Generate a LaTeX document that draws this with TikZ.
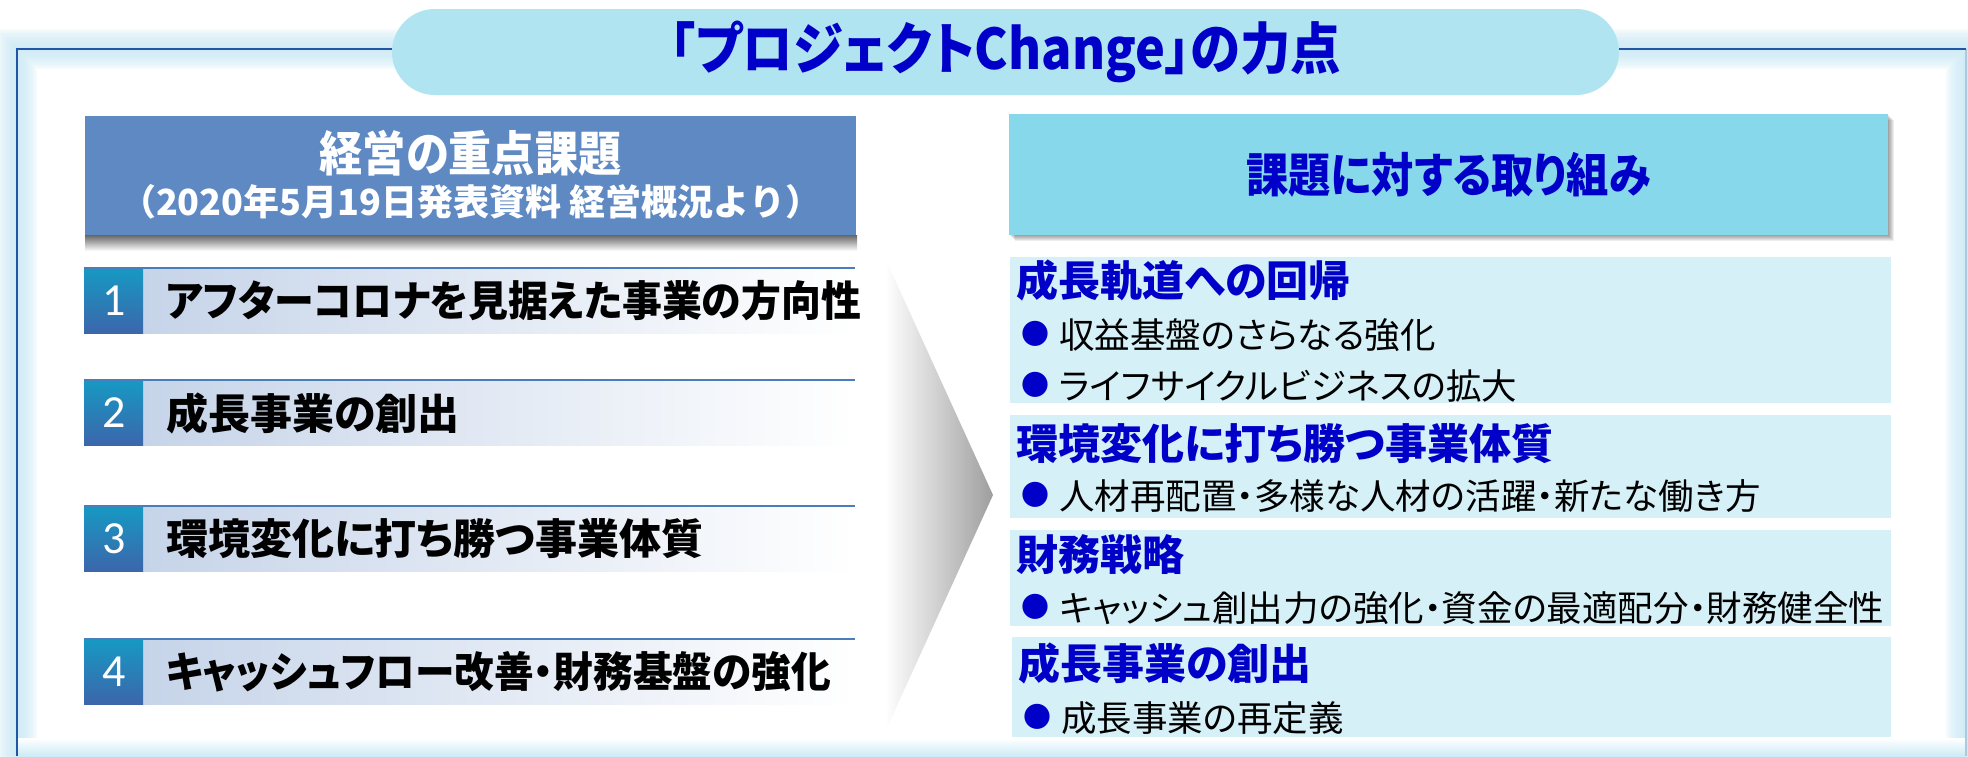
\documentclass[tikz,border=0pt]{standalone}
\usepackage{fontspec}
\usepackage{tikz}
\usepackage{xcolor}

\newfontfamily\jpfont{Noto Sans CJK JP}[RawFeature=+palt]
\newfontfamily\jpslim{Noto Sans CJK JP}[RawFeature=+palt, FakeStretch=0.9]
\newfontfamily\jpwide{Noto Sans CJK JP}
\newfontfamily\numfont{Carlito}

\definecolor{frameblue}{HTML}{1F56A6}
\definecolor{framelight}{HTML}{A9CBE0}
\definecolor{glowcyan}{HTML}{CDEBF6}
\definecolor{pillcyan}{HTML}{B0E4F1}
\definecolor{darkblue}{HTML}{0000C8}
\definecolor{headblue}{HTML}{5F89C3}
\definecolor{headcyan}{HTML}{88D8EC}
\definecolor{seccyan}{HTML}{D6F0F7}
\definecolor{numtop}{HTML}{1699C3}
\definecolor{numbot}{HTML}{3C66AB}
\definecolor{itemleft}{HTML}{C6D4E9}
\definecolor{itemline}{HTML}{4A7EBB}

\tikzset{
  pill/.style={fill=pillcyan, rounded corners=43pt, minimum width=1227pt, minimum height=86pt, inner sep=0},
  titletxt/.style={font=\jpslim\bfseries\fontsize{56}{60}\selectfont, text=darkblue, inner sep=0},
  lhead/.style={fill=headblue, minimum width=771pt, minimum height=119pt, inner sep=0},
  rhead/.style={fill=headcyan, minimum width=879pt, minimum height=121pt, inner sep=0},
  headtxt/.style={font=\jpslim\bfseries\fontsize{48}{52}\selectfont, text=white, inner sep=0},
  subtxt/.style={font=\jpwide\bfseries\fontsize{36}{38}\selectfont, text=white, inner sep=0},
  rheadtxt/.style={font=\jpslim\bfseries\fontsize{47}{50}\selectfont, text=darkblue, inner sep=0},
  numtxt/.style={font=\numfont\fontsize{46}{50}\selectfont, text=white, inner sep=0},
  itemtxt/.style={font=\jpfont\bfseries\fontsize{42}{46}\selectfont, text=black, anchor=west, inner sep=0},
  sectxt/.style={font=\jpfont\bfseries\fontsize{42}{46}\selectfont, text=darkblue, anchor=west, inner sep=0},
  bultxt/.style={font=\jpfont\fontsize{35.5}{38}\selectfont, text=black, anchor=west, inner sep=0},
  dot/.style={font=\jpfont\fontsize{28}{30}\selectfont, text=darkblue, anchor=west, inner sep=0}
}

\begin{document}
\begin{tikzpicture}[x=1pt, y=-1pt]
        \useasboundingbox (0,0) rectangle (1968,756);
        \fill[white] (0,0) rectangle (1968,756);

        % glow round the frame
        \foreach \w in {4,8,...,40}
          \draw[glowcyan, line width=\w, opacity=0.18] (17,770) -- (17,49) -- (1966,49) -- (1966,770);
        \shade[top color=white, bottom color=glowcyan] (17,738) rectangle (1966,756);

        % the frame itself
        \draw[framelight, line width=1.5] (1966,49) -- (1966,756);
        \draw[frameblue, line width=2.5] (17,756) -- (17,49) -- (1966,49);

        % title pill on the top line
        \node[pill] (pill) at (1005.5,52) {};
        \node[titletxt] (title) at (pill.center) {「プロジェクトChange」の力点};

        % left header with its shadow
        \shade[top color=black!60, bottom color=white] (85,235) rectangle (857,251);
        \node[lhead] (lbox) at (470.5,175.5) {};
        \node[headtxt] (lhead1) at (470.5,153) {経営の重点課題};
        \node[subtxt] (lhead2) at (470.5,202) {（2020年5月19日発表資料 経営概況より）};

        % right header with its shadow
        \foreach \s in {1,...,6}
          \fill[black, opacity=0.07] (1009+\s,114+\s) rectangle (1888+\s,235+\s);
        \node[rhead] (rbox) at (1448.5,174.5) {};
        \node[rheadtxt] (rhead) at (rbox.center) {課題に対する取り組み};

        % 4 numbered issues on the left
        \foreach \n/\y/\f/\t in {1/268/0.95/アフターコロナを見据えた事業の方向性,
                                 2/380/1/成長事業の創出,
                                 3/506/1/環境変化に打ち勝つ事業体質,
                                 4/639/0.945/キャッシュフロー改善・財務基盤の強化} {
          \shade[left color=itemleft, right color=white] (143,\y) rectangle (855,\y+65);
          \shade[top color=numtop, bottom color=numbot] (84,\y) rectangle (143,\y+65);
          \draw[itemline, line width=2] (84,\y) -- (855,\y);
          \node[numtxt] (num\n) at (114,\y+33) {\n};
          \node[itemtxt] (item\n) at (166,\y+33) {\scalebox{\f}[1]{\t}};
        }

        % grey chevron between the columns
        \shade[left color=white, right color=black!38] (885,258) -- (993,495) -- (885,732) -- cycle;

        % 4 answer blocks on the right
        \fill[seccyan] (1010,257) rectangle (1891,403);
        \fill[seccyan] (1010,415) rectangle (1891,518);
        \fill[seccyan] (1010,530) rectangle (1891,626);
        \fill[seccyan] (1012,637) rectangle (1891,737);

        \node[sectxt] (sec1) at (1016,280) {成長軌道への回帰};
        \node[dot] (d11) at (1021,334) {●};
        \node[bultxt] (b11) at (1059,335) {収益基盤のさらなる強化};
        \node[dot] (d12) at (1021,385) {●};
        \node[bultxt] (b12) at (1059,386) {ライフサイクルビジネスの拡大};

        \node[sectxt] (sec2) at (1016,444) {環境変化に打ち勝つ事業体質};
        \node[dot] (d21) at (1021,495) {●};
        \node[bultxt] (b21) at (1059,496) {人材再配置・多様な人材の活躍・新たな働き方};

        \node[sectxt] (sec3) at (1016,555) {財務戦略};
        \node[dot] (d31) at (1021,607) {●};
        \node[bultxt] (b31) at (1059,608) {キャッシュ創出力の強化・資金の最適配分・財務健全性};

        \node[sectxt] (sec4) at (1018,663) {成長事業の創出};
        \node[dot] (d41) at (1023,717) {●};
        \node[bultxt] (b41) at (1061,718) {成長事業の再定義};

      \end{tikzpicture}
\end{document}
